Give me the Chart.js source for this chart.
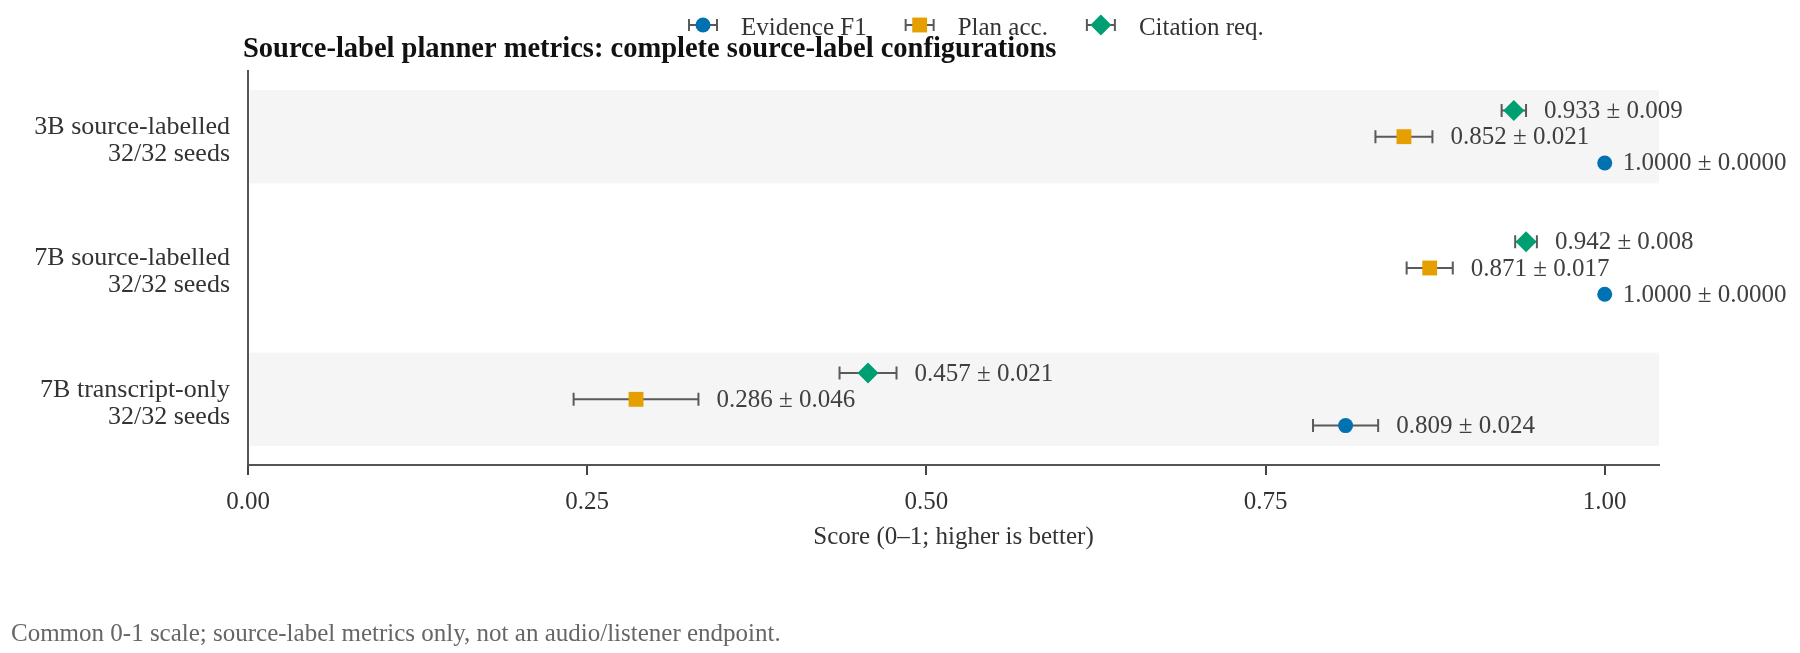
<!DOCTYPE html>
<html><head><meta charset="utf-8">
<script src="https://cdn.jsdelivr.net/npm/chart.js@4.4.1/dist/chart.umd.min.js"></script>
<style>html,body{margin:0;padding:0;background:#fff;} #wrap{width:1800px;height:653px;position:relative;}</style>
</head><body><div id="wrap"><canvas id="c"></canvas></div>
<script>
// ---- data ----
const categories = [["3B source-labelled","32/32 seeds"],["7B source-labelled","32/32 seeds"],["7B transcript-only","32/32 seeds"]];
const seriesNames = ["Evidence F1","Plan acc.","Citation req."];
const evidenceF1 = [1.0000, 1.0000, 0.809];
const evidenceF1Err = [0.0000, 0.0000, 0.024];
const evidenceF1Decimals = [4, 4, 3];
const planAcc = [0.852, 0.871, 0.286];
const planAccErr = [0.021, 0.017, 0.046];
const planAccDecimals = [3, 3, 3];
const citationReq = [0.933, 0.942, 0.457];
const citationReqErr = [0.009, 0.008, 0.021];
const citationReqDecimals = [3, 3, 3];
const xTicks = [0, 0.25, 0.5, 0.75, 1.0];
const titleText = "Source-label planner metrics: complete source-label configurations";
const xTitleText = "Score (0\u20131; higher is better)";
const footnoteText = "Common 0-1 scale; source-label metrics only, not an audio/listener endpoint.";

// ---- styles ----
const FONT = '"Liberation Serif","DejaVu Serif","Times New Roman",serif';
const series = [
  {name: seriesNames[0], values: evidenceF1, errs: evidenceF1Err, dec: evidenceF1Decimals, color: '#0072B2', style: 'circle', radius: 7.5, off: 0.2},
  {name: seriesNames[1], values: planAcc, errs: planAccErr, dec: planAccDecimals, color: '#E69F00', style: 'rect', radius: 10.5, off: 0},
  {name: seriesNames[2], values: citationReq, errs: citationReqErr, dec: citationReqDecimals, color: '#009E73', style: 'rectRot', radius: 10.5, off: -0.2}
];
const ERR_COLOR = '#5a5a5a';
const LABEL_SHIFT = 0.03;

function drawMarker(ctx, style, x, y, r, color){
  ctx.fillStyle = color;
  ctx.beginPath();
  if (style === 'circle') { ctx.arc(x, y, r, 0, Math.PI*2); }
  else if (style === 'rect') { const h = r*Math.SQRT1_2; ctx.rect(x-h, y-h, 2*h, 2*h); }
  else { ctx.moveTo(x, y-r); ctx.lineTo(x+r, y); ctx.lineTo(x, y+r); ctx.lineTo(x-r, y); ctx.closePath(); }
  ctx.fill();
}
function drawErr(ctx, x0, x1, y, cap){
  ctx.beginPath();
  ctx.moveTo(x0, y); ctx.lineTo(x1, y);
  ctx.moveTo(x0, y-cap); ctx.lineTo(x0, y+cap);
  ctx.moveTo(x1, y-cap); ctx.lineTo(x1, y+cap);
  ctx.stroke();
}

const decor = {
  id: 'decor',
  beforeDatasetsDraw(chart){
    const {ctx, chartArea: a, scales: {x, y}} = chart;
    ctx.save();
    ctx.fillStyle = '#f5f5f5';
    categories.forEach((c, i) => {
      if (i % 2 === 0) {
        const t = y.getPixelForValue(i - 0.355), b = y.getPixelForValue(i + 0.355);
        ctx.fillRect(a.left + 1.5, t, a.right - a.left - 1.5, b - t);
      }
    });
    ctx.strokeStyle = ERR_COLOR; ctx.lineWidth = 2;
    series.forEach(s => {
      s.values.forEach((v, i) => {
        const e = s.errs[i];
        if (e > 0) {
          const py = y.getPixelForValue(i + s.off);
          drawErr(ctx, x.getPixelForValue(v - e), x.getPixelForValue(v + e), py, 6.5);
        }
      });
    });
    ctx.restore();
  },
  afterDatasetsDraw(chart){
    const {ctx, scales: {x, y}} = chart;
    ctx.save();
    ctx.font = '25px ' + FONT; ctx.fillStyle = '#404040';
    ctx.textAlign = 'left'; ctx.textBaseline = 'middle';
    series.forEach(s => {
      s.values.forEach((v, i) => {
        const e = s.errs[i];
        const px = x.getPixelForValue(v + e) + 18;
        const py = y.getPixelForValue(i + s.off);
        ctx.fillText(v.toFixed(s.dec[i]) + ' \u00b1 ' + e.toFixed(s.dec[i]), px, py + 1);
      });
    });
    ctx.restore();
  },
  afterDraw(chart){
    const {ctx} = chart;
    ctx.save();
    // title
    ctx.font = 'bold 28.5px ' + FONT; ctx.fillStyle = '#111';
    ctx.textAlign = 'left'; ctx.textBaseline = 'middle';
    ctx.fillText(titleText, 243, 50);
    // legend
    ctx.font = '25px ' + FONT; ctx.fillStyle = '#333';
    let cx = 703;
    series.forEach(s => {
      ctx.strokeStyle = ERR_COLOR; ctx.lineWidth = 2;
      drawErr(ctx, cx - 14, cx + 14, 25, 6);
      drawMarker(ctx, s.style, cx, 25, s.radius, s.color);
      ctx.fillStyle = '#333';
      ctx.fillText(s.name, cx + 38, 28);
      cx = cx + 38 + ctx.measureText(s.name).width + 53;
    });
    // footnote
    ctx.font = '25px ' + FONT; ctx.fillStyle = '#666';
    ctx.fillText(footnoteText, 11, 634);
    ctx.restore();
  }
};

const datasets = series.map(s => ({
  label: s.name,
  data: s.values.map((v, i) => ({x: v, y: i + s.off})),
  backgroundColor: s.color,
  borderColor: s.color,
  borderWidth: 0,
  pointStyle: s.style,
  pointRadius: s.radius,
  pointHoverRadius: s.radius
}));

new Chart(document.getElementById('c'), {
  type: 'scatter',
  data: {datasets},
  plugins: [decor],
  options: {
    responsive: true, maintainAspectRatio: false, animation: false, devicePixelRatio: 1,
    layout: {padding: {left: 0, right: 141, top: 71, bottom: 97}},
    plugins: {legend: {display: false}, title: {display: false}, tooltip: {enabled: false}},
    scales: {
      x: {
        type: 'linear', min: 0, max: 1.04,
        afterBuildTicks: sc => { sc.ticks = xTicks.map(v => ({value: v})); },
        afterFit: sc => { sc.height = 91; },
        grid: {display: true, drawOnChartArea: false, drawTicks: true, tickLength: 10, color: '#444', lineWidth: 2},
        border: {display: true, color: '#555', width: 2},
        ticks: {padding: 12, color: '#333', font: {family: FONT, size: 25}, callback: v => Number(v).toFixed(2), maxRotation: 0},
        title: {display: true, text: xTitleText, color: '#333', font: {family: FONT, size: 25}, padding: {top: 0, bottom: 4}}
      },
      y: {
        type: 'linear', min: -0.5, max: 2.5, reverse: true,
        afterBuildTicks: sc => { sc.ticks = categories.map((c, i) => ({value: i + LABEL_SHIFT})); },
        afterFit: sc => { sc.width = 248; },
        grid: {display: false, drawTicks: false},
        border: {display: true, color: '#555', width: 2},
        ticks: {padding: 18, color: '#333', font: {family: FONT, size: 26, lineHeight: 1.04}, callback: (v) => categories[Math.round(v)]}
      }
    }
  }
});
</script></body></html>
